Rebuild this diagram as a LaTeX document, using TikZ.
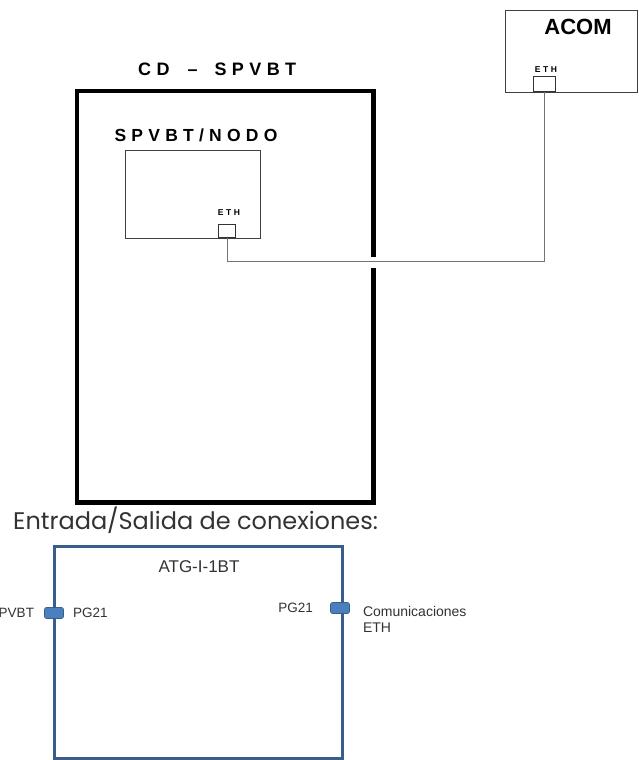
\documentclass[tikz,border=0pt]{standalone}
\usepackage{fontspec}
\setmainfont{Liberation Sans}
\newfontfamily\widefont[LetterSpace=30]{Liberation Sans}
\newfontfamily\geofont{Poppins}
\usepackage{xcolor}
\usepackage{tikz}
\usetikzlibrary{positioning,calc}
\definecolor{atgblue}{RGB}{58,94,138}
\definecolor{portblue}{RGB}{74,128,190}
\tikzset{
  cab/.style={rectangle, draw=black!75, line width=0.8pt, inner sep=0pt},
  port/.style={rectangle, draw=black!80, line width=0.7pt, fill=white, inner sep=0pt},
  ethlbl/.style={font=\widefont\bfseries\fontsize{8.5}{8.5}\selectfont, inner sep=0pt},
  titlelbl/.style={font=\widefont\bfseries\fontsize{18}{18}\selectfont, inner sep=0pt},
  wall/.style={line width=4.5pt, line join=miter},
  cable/.style={draw=black!55, line width=0.9pt},
  atgport/.style={rectangle, rounded corners=2pt, fill=portblue, draw=atgblue, line width=0.6pt,
                  minimum width=19pt, minimum height=11pt, inner sep=0pt},
  atgtxt/.style={font=\fontsize{13.5}{16}\selectfont, text=black!80, inner sep=0pt, align=left}
}
\begin{document}
\begin{tikzpicture}[x=1pt, y=-1pt]
\useasboundingbox[fill=white] (0,0) rectangle (638,760);
% ACOM
\node[cab, minimum width=132pt, minimum height=82pt, anchor=north west] (acom) at (505,10) {};
\node[font=\bfseries\fontsize{22}{22}\selectfont, inner sep=0pt] (acomlbl) at (578,27) {ACOM};
\node[port, minimum width=22pt, minimum height=15pt, anchor=south] (acometh) at (544,92) {};
\node[ethlbl] (acomethlbl) at (546,70) {ETH};
% cuadro CD - SPVBT
\node[minimum width=296pt, minimum height=411pt, anchor=north west, inner sep=0pt] (cd) at (77,91) {};
\coordinate (gaptop) at (cd.east |- 0,257);
\coordinate (gapbot) at (cd.east |- 0,268);
\draw[wall] (gaptop) -- (cd.north east) -- (cd.north west) -- (cd.south west) -- (cd.south east) -- (gapbot);
\node[titlelbl, anchor=west] (cdlbl) at (138,69) {CD\hspace{18pt}–\hspace{17pt}SPVBT};
% SPVBT/NODO
\node[titlelbl, font=\widefont\bfseries\fontsize{17.5}{17.5}\selectfont] (nodolbl) at (196,135) {SPVBT/NODO};
\node[cab, minimum width=135pt, minimum height=88pt, anchor=north west] (nodo) at (125,150) {};
\node[port, minimum width=17pt, minimum height=13pt, anchor=south] (nodoeth) at (227,238) {};
\node[ethlbl] (nodoethlbl) at (229,213) {ETH};
\draw[cable] (nodoeth.south) -- ++(0,23) -| (acometh.south);
% entrada/salida
\node[font=\geofont\fontsize{24}{24}\selectfont, text=black!80, anchor=west, inner sep=0pt] (iolbl) at (13,520) {Entrada/Salida de conexiones:};
\node[draw=atgblue, line width=2.5pt, minimum width=288pt, minimum height=212pt, anchor=north west, inner sep=0pt] (atg) at (53,545) {};
\node[atgtxt, font=\fontsize{17}{17}\selectfont] (atglbl) at (199,567) {ATG-I-1BT};
\node[atgport] (pgin) at (54,613) {};
\node[atgport] (pgout) at (340,608) {};
\node[atgtxt, left=10pt of pgin] (inlbl) {PVBT};
\node[atgtxt, right=9pt of pgin] (pginlbl) {PG21};
\node[atgtxt, left=17pt of pgout] (pgoutlbl) {PG21};
\node[atgtxt, font=\fontsize{14}{16}\selectfont, right=13pt of pgout, yshift=-11pt] (outlbl) {Comunicaciones\\ETH};
\end{tikzpicture}
\end{document}
